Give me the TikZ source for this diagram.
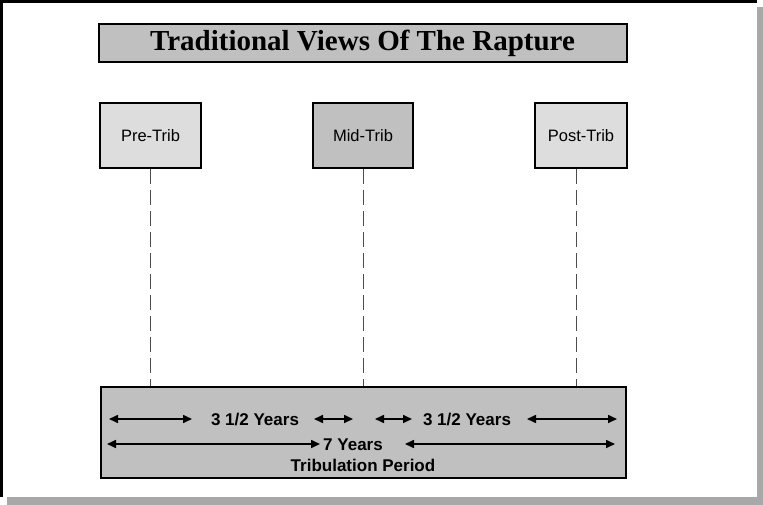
\documentclass[tikz,border=0pt]{standalone}
\usepackage{fontspec}
\setmainfont{Liberation Serif}
\setsansfont{Liberation Sans}
\usetikzlibrary{arrows.meta}
\definecolor{boxgray}{RGB}{192,192,192}
\definecolor{palegray}{RGB}{221,221,221}
\definecolor{shadowgray}{RGB}{168,168,168}

\begin{document}
\begin{tikzpicture}[x=1pt,y=-1pt,
    view/.style={draw,line width=2pt,inner sep=0pt,minimum height=65pt,font=\sffamily\fontsize{16.5}{19}\selectfont},
    span/.style={inner sep=0pt,font=\sffamily\bfseries\fontsize{17}{20}\selectfont},
    years/.style={{Triangle[length=9pt,width=8pt]}-{Triangle[length=9pt,width=8pt]},line width=1.6pt}]
        \useasboundingbox (0,0) rectangle (763,505);
        % frame with shadow
        \fill[shadowgray] (7,7) rectangle (763,505);
        \fill[white] (0,0) rectangle (757,497);
        \draw[line width=3pt] (1.5,497) -- (1.5,1.5) -- (757,1.5);

        \node[draw,line width=2pt,fill=boxgray,inner sep=0pt,minimum width=528pt,minimum height=38pt,font=\bfseries\fontsize{29}{32}\selectfont] (title) at (362.5,43) {Traditional Views Of The Rapture};

        \node[view,fill=palegray,minimum width=101pt] (pre) at (150.5,135.5) {Pre-Trib};
        \node[view,fill=boxgray,minimum width=100pt] (mid) at (363,135.5) {Mid-Trib};
        \node[view,fill=palegray,minimum width=92pt] (post) at (581,135.5) {Post-Trib};

        \node[draw,line width=2pt,fill=boxgray,minimum width=525pt,minimum height=91pt] (period) at (363.5,432.5) {};

        \coordinate (postfoot) at ([xshift=-5pt]post.south);
        \draw[line width=1pt,black!70,dash pattern=on 15pt off 6pt] (pre.south) -- (pre.south |- period.north);
        \draw[line width=1pt,black!70,dash pattern=on 15pt off 6pt] (mid.south) -- (mid.south |- period.north);
        \draw[line width=1pt,black!70,dash pattern=on 15pt off 6pt] (postfoot) -- (postfoot |- period.north);

        % first half and second half
        \node[span] (half1) at (255,420) {3 1/2 Years};
        \node[span] (half2) at (467,420) {3 1/2 Years};
        \coordinate (a1) at (109,419);
        \coordinate (a2) at (192,419);
        \coordinate (a3) at (314,419);
        \coordinate (a4) at (353,419);
        \coordinate (a5) at (375,419);
        \coordinate (a6) at (412,419);
        \coordinate (a7) at (527,419);
        \coordinate (a8) at (617,419);
        \draw[years] (a1) -- (a2);
        \draw[years] (a3) -- (a4);
        \draw[years] (a5) -- (a6);
        \draw[years] (a7) -- (a8);

        % whole period
        \node[span] (seven) at (353,445) {7 Years};
        \coordinate (b1) at (107,444);
        \coordinate (b2) at (320,444);
        \coordinate (b3) at (405,444);
        \coordinate (b4) at (615,444);
        \draw[years] (b1) -- (b2);
        \draw[years] (b3) -- (b4);
        \node[span] (trib) at (363,465) {Tribulation Period};
\end{tikzpicture}
\end{document}
